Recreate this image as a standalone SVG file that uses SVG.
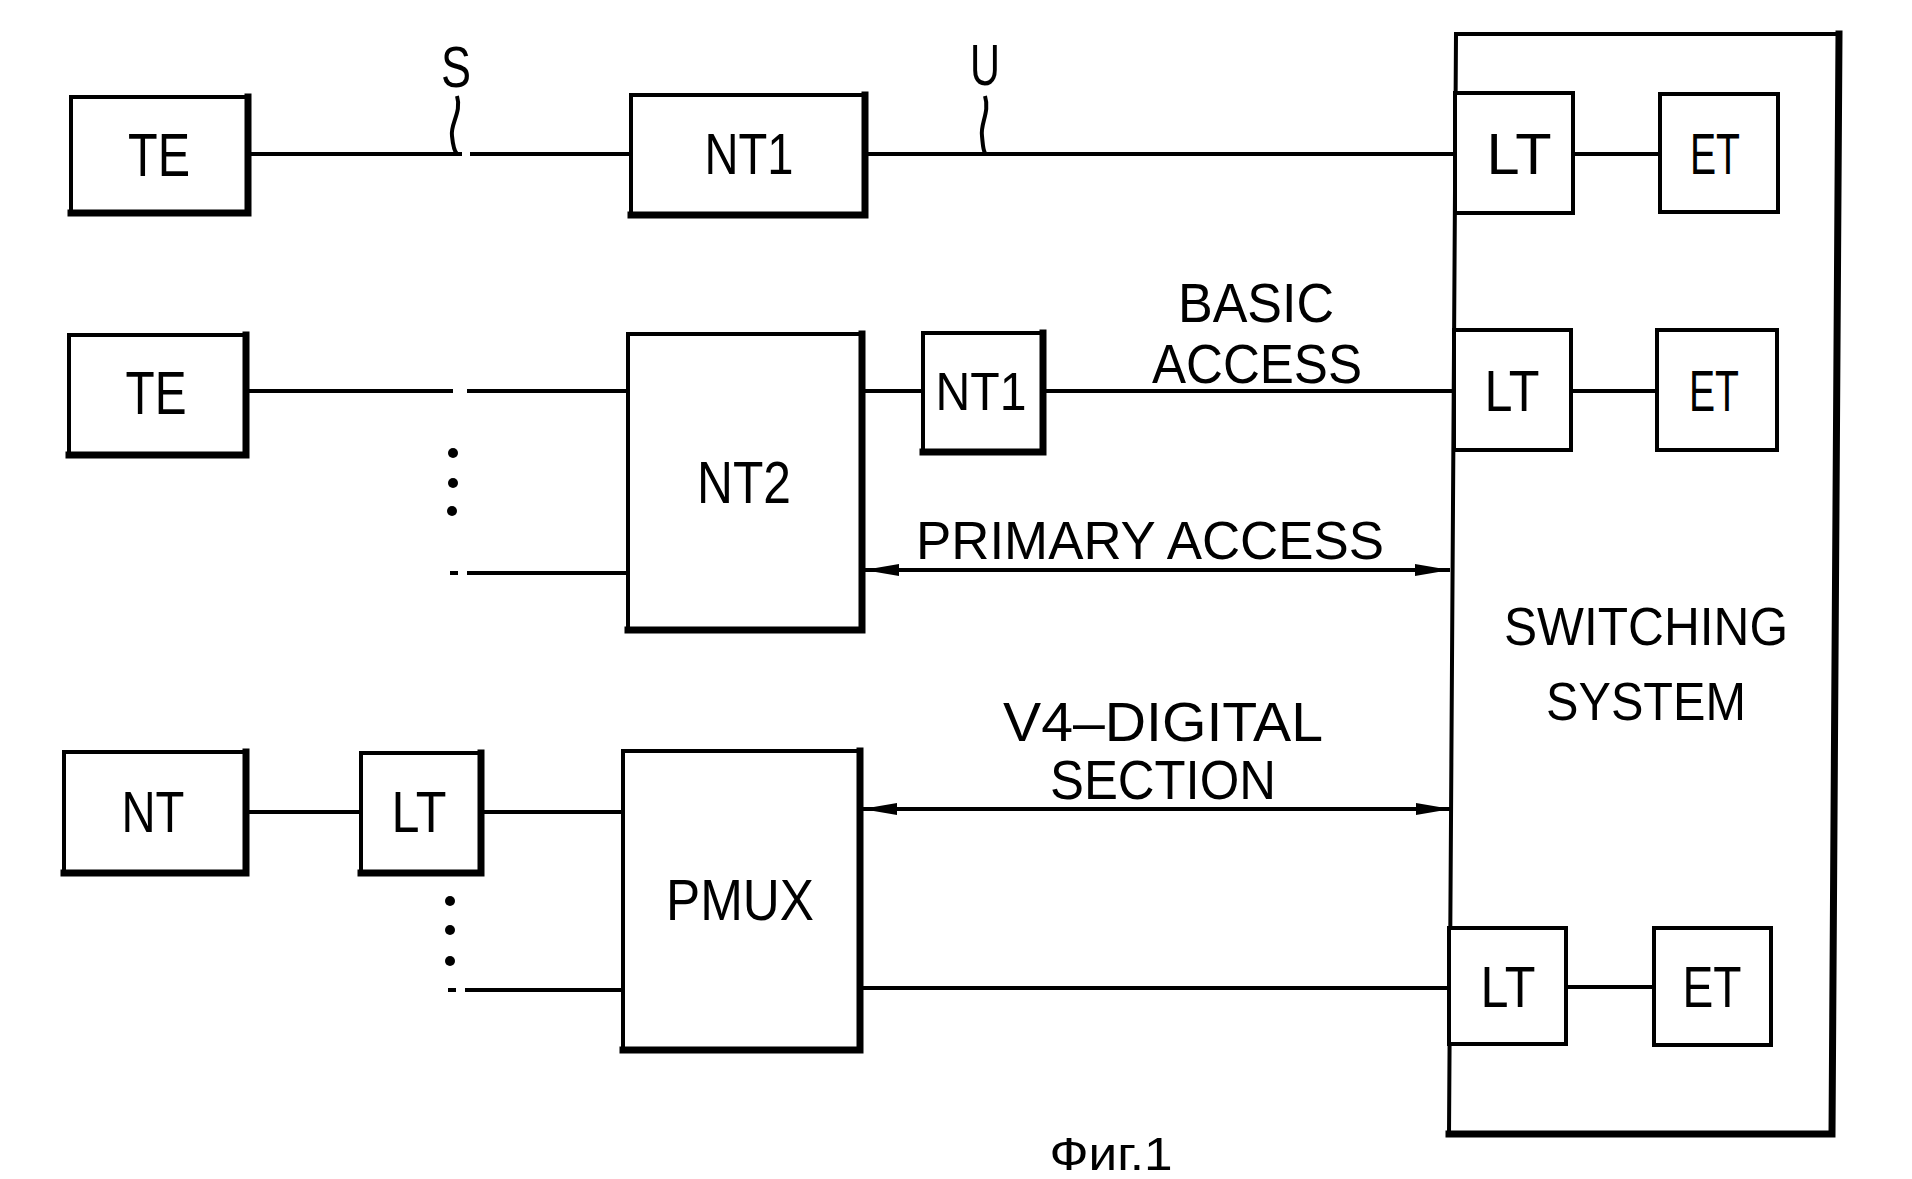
<svg xmlns="http://www.w3.org/2000/svg" width="1912" height="1179" viewBox="0 0 1912 1179">
<style>
.bx{fill:#fff;stroke:#000;stroke-width:4}
.sh{fill:none;stroke:#000;stroke-width:7;stroke-linecap:square}
.ln{fill:none;stroke:#000;stroke-width:4}
.t{font-family:"Liberation Sans",Arial,sans-serif;fill:#000;text-anchor:middle}
</style>
<defs>
<marker id="ah" markerUnits="userSpaceOnUse" markerWidth="36" markerHeight="14" refX="35" refY="7" orient="auto-start-reverse" viewBox="0 0 36 14">
<path d="M0,1 L35,7 L0,13 z" fill="#000"/>
</marker>
</defs>
<rect width="1912" height="1179" fill="#fff"/>

<g id="switching">
<path d="M1456,34 L1839,34 L1832,1134 L1449,1134 Z" fill="none" stroke="#000" stroke-width="4"/>
<path class="sh" d="M1839,34 L1832,1134 L1449,1134"/>
<text class="t" x="1646" y="645" font-size="54" textLength="284" lengthAdjust="spacingAndGlyphs">SWITCHING</text>
<text class="t" x="1646" y="720" font-size="54" textLength="200" lengthAdjust="spacingAndGlyphs">SYSTEM</text>
</g>

<g id="connectors">
<path class="ln" d="M248,154 H462 M470,154 H631"/>
<path class="ln" d="M865,154 H1455"/>
<path class="ln" d="M1573,154 H1660"/>
<path class="ln" d="M246,391 H453 M467,391 H628"/>
<path class="ln" d="M862,391 H923"/>
<path class="ln" d="M1043,391 H1454"/>
<path class="ln" d="M1571,391 H1657"/>
<path class="ln" d="M450,573 H458 M467,573 H628"/>
<path class="ln" d="M864,570 H1450" marker-start="url(#ah)" marker-end="url(#ah)"/>
<path class="ln" d="M246,812 H361"/>
<path class="ln" d="M481,812 H623"/>
<path class="ln" d="M448,990 H456 M465,990 H623"/>
<path class="ln" d="M862,809 H1451" marker-start="url(#ah)" marker-end="url(#ah)"/>
<path class="ln" d="M860,988 H1449"/>
<path class="ln" d="M1566,987 H1654"/>
<path class="ln" stroke-width="3" d="M457,96 C462,112 450,124 452,136 C453,146 454,151 457,154"/>
<path class="ln" stroke-width="3" d="M985,96 C990,112 980,124 982,136 C983,146 983,150 985,153"/>
<circle cx="453" cy="453" r="5"/>
<circle cx="453" cy="483" r="5"/>
<circle cx="452" cy="511" r="5"/>
<circle cx="450" cy="901" r="5"/>
<circle cx="450" cy="930" r="5"/>
<circle cx="450" cy="961" r="5"/>
</g>

<g id="te1">
<rect class="bx" x="71" y="97" width="177" height="116"/>
<path class="sh" d="M248,97 V213 H71"/>
<text class="t" x="159" y="176" font-size="62" textLength="62" lengthAdjust="spacingAndGlyphs">TE</text>
</g>
<g id="nt1-top">
<rect class="bx" x="631" y="95" width="234" height="120"/>
<path class="sh" d="M865,95 V215 H631"/>
<text class="t" x="749" y="174" font-size="58" textLength="89" lengthAdjust="spacingAndGlyphs">NT1</text>
</g>
<g id="label-s">
<text class="t" x="456" y="87" font-size="58" textLength="30" lengthAdjust="spacingAndGlyphs">S</text>
</g>
<g id="label-u">
<text class="t" x="985" y="85" font-size="58" textLength="30" lengthAdjust="spacingAndGlyphs">U</text>
</g>
<g id="lt1">
<rect class="bx" x="1455" y="93" width="118" height="120"/>
<text class="t" x="1519" y="174" font-size="58" textLength="65" lengthAdjust="spacingAndGlyphs">LT</text>
</g>
<g id="et1">
<rect class="bx" x="1660" y="94" width="118" height="118"/>
<text class="t" x="1715" y="174" font-size="58" textLength="50" lengthAdjust="spacingAndGlyphs">ET</text>
</g>

<g id="te2">
<rect class="bx" x="69" y="335" width="177" height="120"/>
<path class="sh" d="M246,335 V455 H69"/>
<text class="t" x="156" y="414" font-size="62" textLength="61" lengthAdjust="spacingAndGlyphs">TE</text>
</g>
<g id="nt2">
<rect class="bx" x="628" y="334" width="234" height="296"/>
<path class="sh" d="M862,334 V630 H628"/>
<text class="t" x="744" y="503" font-size="60" textLength="94" lengthAdjust="spacingAndGlyphs">NT2</text>
</g>
<g id="nt1-small">
<rect class="bx" x="923" y="333" width="120" height="119"/>
<path class="sh" d="M1043,333 V452 H923"/>
<text class="t" x="981" y="410" font-size="54" textLength="91" lengthAdjust="spacingAndGlyphs">NT1</text>
</g>
<g id="basic-access">
<text class="t" x="1256" y="322" font-size="56" textLength="156" lengthAdjust="spacingAndGlyphs">BASIC</text>
<text class="t" x="1257" y="383" font-size="56" textLength="210" lengthAdjust="spacingAndGlyphs">ACCESS</text>
</g>
<g id="lt2">
<rect class="bx" x="1454" y="330" width="117" height="120"/>
<text class="t" x="1512" y="411" font-size="58" textLength="55" lengthAdjust="spacingAndGlyphs">LT</text>
</g>
<g id="et2">
<rect class="bx" x="1657" y="330" width="120" height="120"/>
<text class="t" x="1714" y="411" font-size="58" textLength="50" lengthAdjust="spacingAndGlyphs">ET</text>
</g>
<g id="primary-access">
<text class="t" x="1150" y="559" font-size="53" textLength="468" lengthAdjust="spacingAndGlyphs">PRIMARY ACCESS</text>
</g>

<g id="nt3">
<rect class="bx" x="64" y="752" width="182" height="121"/>
<path class="sh" d="M246,752 V873 H64"/>
<text class="t" x="153" y="832" font-size="58" textLength="63" lengthAdjust="spacingAndGlyphs">NT</text>
</g>
<g id="lt-row3">
<rect class="bx" x="361" y="753" width="120" height="120"/>
<path class="sh" d="M481,753 V873 H361"/>
<text class="t" x="419" y="832" font-size="58" textLength="55" lengthAdjust="spacingAndGlyphs">LT</text>
</g>
<g id="pmux">
<rect class="bx" x="623" y="751" width="237" height="299"/>
<path class="sh" d="M860,751 V1050 H623"/>
<text class="t" x="740" y="920" font-size="58" textLength="148" lengthAdjust="spacingAndGlyphs">PMUX</text>
</g>
<g id="v4-digital">
<text class="t" x="1163" y="741" font-size="56" textLength="320" lengthAdjust="spacingAndGlyphs">V4–DIGITAL</text>
<text class="t" x="1163" y="799" font-size="56" textLength="226" lengthAdjust="spacingAndGlyphs">SECTION</text>
</g>
<g id="lt3">
<rect class="bx" x="1449" y="928" width="117" height="116"/>
<text class="t" x="1508" y="1007" font-size="58" textLength="55" lengthAdjust="spacingAndGlyphs">LT</text>
</g>
<g id="et3">
<rect class="bx" x="1654" y="928" width="117" height="117"/>
<text class="t" x="1712" y="1007" font-size="58" textLength="59" lengthAdjust="spacingAndGlyphs">ET</text>
</g>

<g id="caption">
<text class="t" x="1111" y="1170" font-size="46" textLength="123" lengthAdjust="spacingAndGlyphs">Фиг.1</text>
</g>
</svg>
